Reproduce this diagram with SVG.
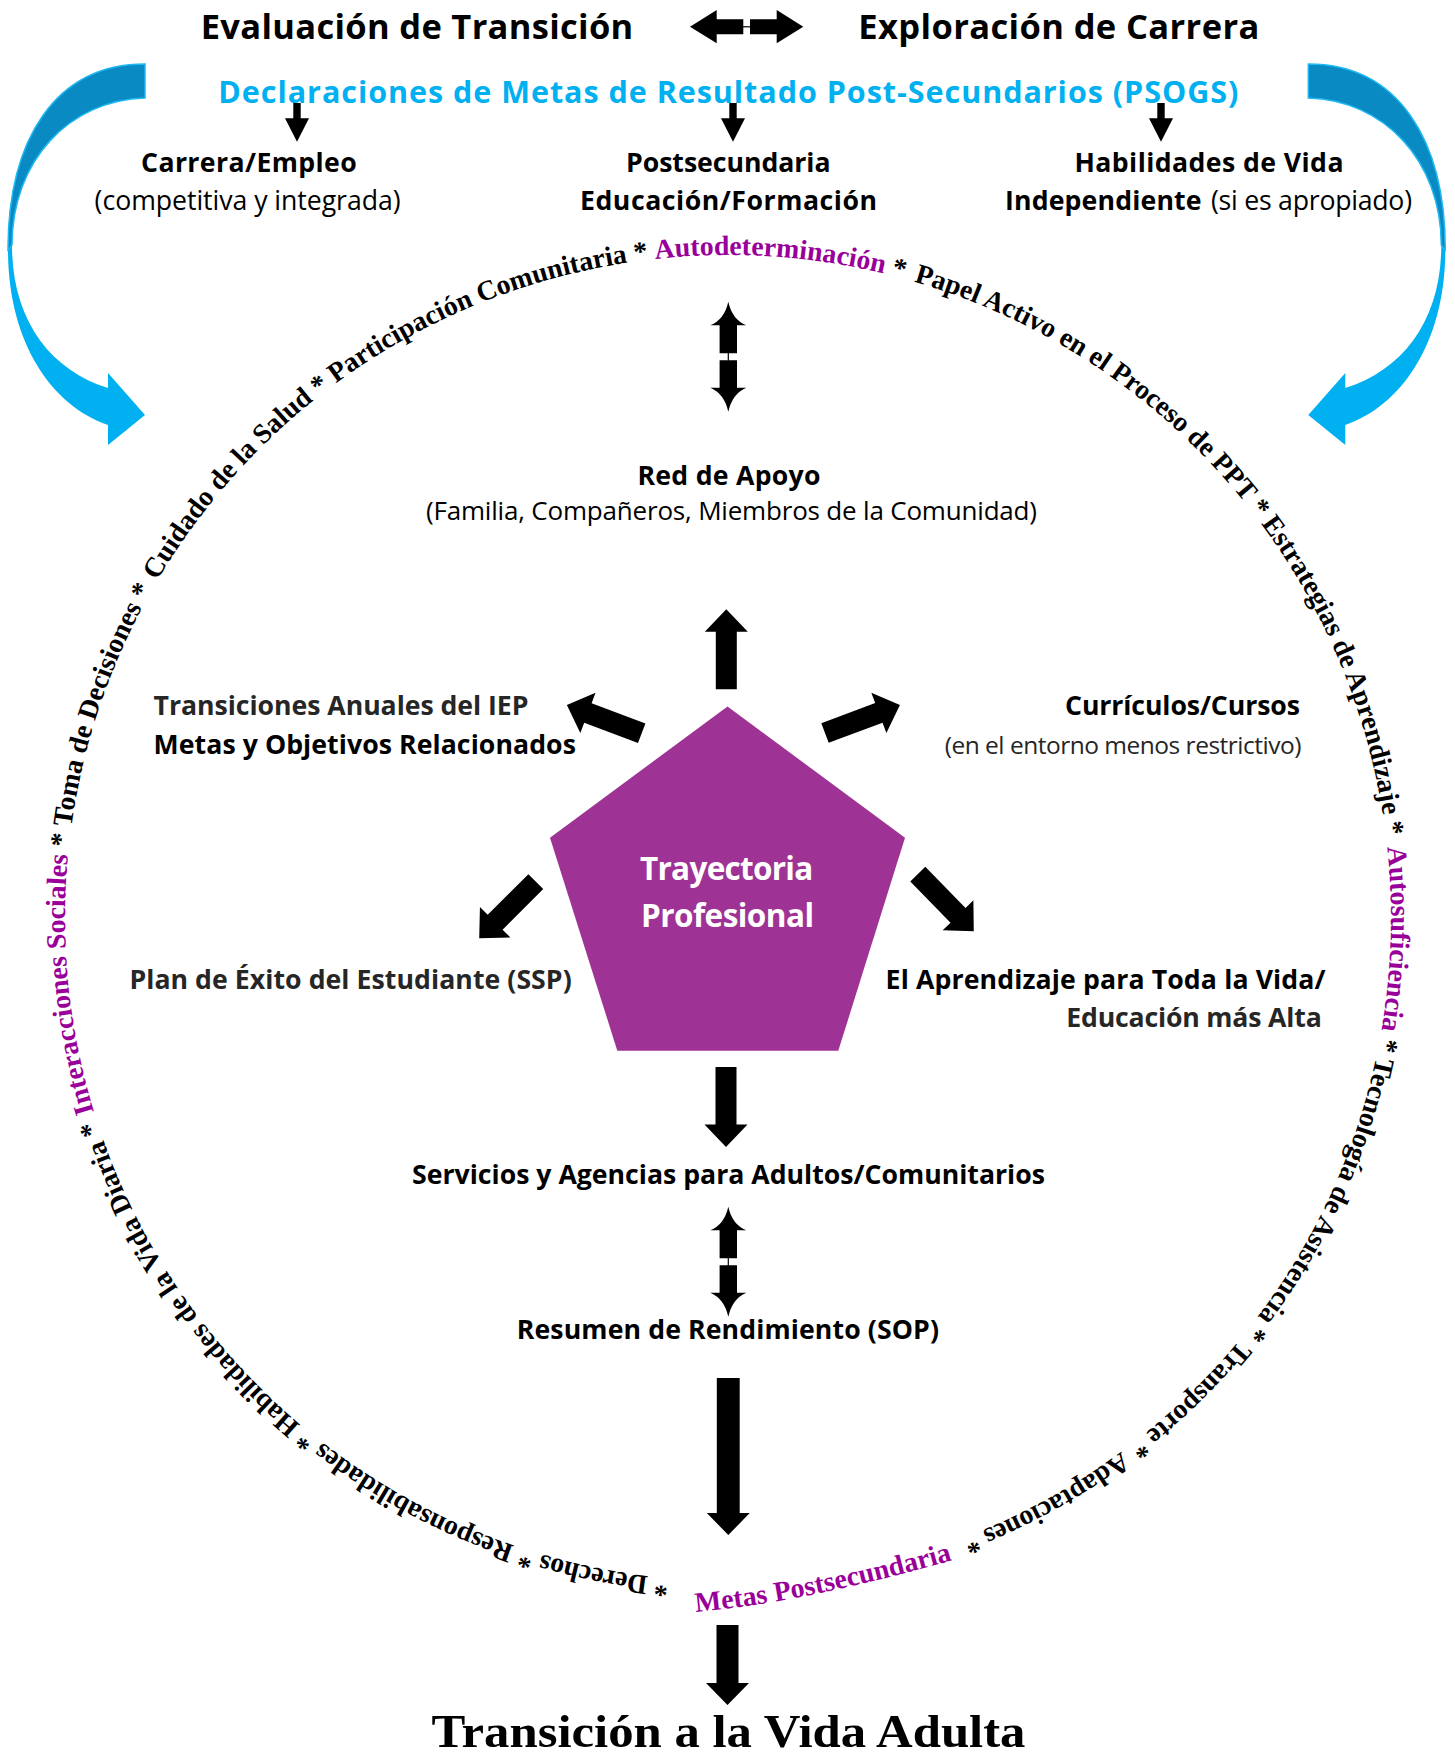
<svg xmlns="http://www.w3.org/2000/svg" width="1455" height="1752" viewBox="0 0 1455 1752">
<style>
.lb{font-family:'Open Sans','Noto Sans','Liberation Sans',sans-serif;font-weight:700;font-size:26.67px;fill:#000}
.lr{font-family:'Open Sans','Noto Sans','Liberation Sans',sans-serif;font-weight:400;font-size:26.67px;fill:#000}
.gr{fill:#262626}
.ring{font-family:'Liberation Serif','Times New Roman',serif;font-weight:700;font-size:27.8px;fill:#000}
.pu{fill:#990099}
.ba{fill:#00B0F0}
.bad{fill:#0A8AC2;stroke:#1FB8F2;stroke-width:1.5}
.blk{fill:#000}
</style>
<defs>
<path id="arr" d="M0,-10.5 H57.5 V-21.5 L80,0 L57.5,21.5 V10.5 H0 Z"/>
<path id="ringPath" d="M728,1581 A663,663 0 1 1 728,255 A663,663 0 1 1 728,1581"/>
<path id="metasPath" d="M696,1612 Q805,1602.5 960,1558"/>
<g id="curvedArrow">
<path class="ba" d="M145,64 C55,64 8,140 8,250 C8,340 50,405 108,425 L108,445 L145,415 L108,373 L108,388 C50,370 12,320 12,245 C12,160 70,100 145,98 Z"/>
<path class="bad" d="M145,64 C55,64 8,140 8,250 C10,248 11,247 12,245 C12,160 70,100 145,98 Z"/>
</g>
<g id="dblV">
<path d="M0,0 Q-4,18 -18,23.5 L-8.7,23.5 L-8.7,51.5 L8.7,51.5 L8.7,23.5 L18,23.5 Q4,18 0,0 Z"/>
<path d="M0,51 V59" stroke="#000" stroke-width="1.2"/>
<path d="M-8.7,58.5 L8.7,58.5 L8.7,86 L18,86 Q4,92 0,110 Q-4,92 -18,86 L-8.7,86 Z"/>
</g>
</defs>
<rect width="1455" height="1752" fill="#fff"/>

<g id="blue-arrows">
<use href="#curvedArrow"/>
<use href="#curvedArrow" transform="translate(1453.3,0) scale(-1,1)"/>
</g>

<g id="node-evaluacion"><text class="lb" x="200.7" y="39.3" style="font-size:34.5px" textLength="432.6">Evaluación de Transición</text></g>
<g id="node-exploracion"><text class="lb" x="858.3" y="39.3" style="font-size:34.5px" textLength="401">Exploración de Carrera</text></g>
<g id="node-psogs"><text class="lb" x="218.3" y="102.7" style="font-size:30.5px;fill:#00B0F0" textLength="1020">Declaraciones de Metas de Resultado Post-Secundarios (PSOGS)</text></g>

<g id="node-carrera">
<text class="lb" x="141" y="171.5" textLength="215.7">Carrera/Empleo</text>
<text class="lr" x="94.6" y="210" textLength="306">(competitiva y integrada)</text>
</g>
<g id="node-postsecundaria">
<text class="lb" x="626" y="171.5" textLength="204.5">Postsecundaria</text>
<text class="lb" x="580" y="210" textLength="297">Educación/Formación</text>
</g>
<g id="node-habilidades">
<text class="lb" x="1074.5" y="171.5" textLength="269">Habilidades de Vida</text>
<text class="lb" x="1005" y="210" textLength="196.6">Independiente</text>
<text class="lr" x="1211" y="210" textLength="201">(si es apropiado)</text>
</g>

<g id="ring-text">
<text class="ring"><textPath href="#ringPath" startOffset="59">* Derechos *</textPath></text>
<text class="ring"><textPath href="#ringPath" startOffset="217.3">Responsabilidades *</textPath></text>
<text class="ring"><textPath href="#ringPath" startOffset="464.4">Habilidades de la Vida Diaria *</textPath></text>
<text class="ring"><textPath href="#ringPath" startOffset="844.4"><tspan class="pu">Interacciones Sociales</tspan> *</textPath></text>
<text class="ring"><textPath href="#ringPath" startOffset="1132.4">Toma de Decisiones *</textPath></text>
<text class="ring"><textPath href="#ringPath" startOffset="1395">Cuidado de la Salud *</textPath></text>
<text class="ring"><textPath href="#ringPath" startOffset="1663">Participación Comunitaria *</textPath></text>
<text class="ring"><textPath href="#ringPath" startOffset="2009.8"><tspan class="pu">Autodeterminación</tspan> *</textPath></text>
<text class="ring"><textPath href="#ringPath" startOffset="2271">Papel Activo en el Proceso de PPT *</textPath></text>
<text class="ring"><textPath href="#ringPath" startOffset="2701.6">Estrategias de Aprendizaje *</textPath></text>
<text class="ring"><textPath href="#ringPath" startOffset="3053">
<tspan class="pu">Autosuficiencia</tspan> *</textPath></text>
<text class="ring"><textPath href="#ringPath" startOffset="3264">Tecnología de Asistencia *</textPath></text>
<text class="ring"><textPath href="#ringPath" startOffset="3581.9">Transporte *</textPath></text>
<text class="ring"><textPath href="#ringPath" startOffset="3744">Adaptaciones *</textPath></text>
</g>
<g id="node-metas-post"><text class="ring pu" style="font-size:28px"><textPath href="#metasPath">Metas Postsecundaria</textPath></text></g>

<g id="node-red">
<text class="lb" x="637.5" y="485" textLength="183">Red de Apoyo</text>
<text class="lr" x="426" y="520" style="font-size:26px" textLength="611">(Familia, Compañeros, Miembros de la Comunidad)</text>
</g>
<g id="node-iep">
<text class="lb gr" x="153.6" y="715" textLength="374.8">Transiciones Anuales del IEP</text>
<text class="lb" x="153.6" y="753.6" textLength="422.3">Metas y Objetivos Relacionados</text>
</g>
<g id="node-curriculos">
<text class="lb" x="1065" y="715" textLength="235">Currículos/Cursos</text>
<text class="lr gr" x="944.7" y="753.6" style="font-size:24.5px" textLength="356.7">(en el entorno menos restrictivo)</text>
</g>
<g id="node-trayectoria">
<polygon points="727.5,706.5 905,837.7 838.3,1050.7 617.3,1050.7 550,837.7" fill="#9F3395"/>
<text class="lb" x="640" y="880" style="font-size:31.5px;fill:#fff" textLength="173.3">Trayectoria</text>
<text class="lb" x="641" y="926.7" style="font-size:31.5px;fill:#fff" textLength="173">Profesional</text>
</g>
<g id="node-ssp"><text class="lb gr" x="129.4" y="989" textLength="442.3">Plan de Éxito del Estudiante (SSP)</text></g>
<g id="node-aprendizaje">
<text class="lb" x="885.6" y="989" textLength="440">El Aprendizaje para Toda la Vida/</text>
<text class="lb gr" x="1066.2" y="1027" textLength="255.6">Educación más Alta</text>
</g>
<g id="node-servicios"><text class="lb" x="412" y="1184" textLength="633">Servicios y Agencias para Adultos/Comunitarios</text></g>
<g id="node-sop"><text class="lb" x="516.8" y="1339" textLength="422.2">Resumen de Rendimiento (SOP)</text></g>
<g id="node-transicion"><text x="431.5" y="1747" font-family="'Liberation Serif','Times New Roman',serif" font-weight="700" font-size="46" textLength="594" lengthAdjust="spacingAndGlyphs">Transición a la Vida Adulta</text></g>

<g id="connectors" class="blk">
<path d="M690,26.7 L716.7,10 L716.7,19.3 L743.3,19.3 L743.3,34.3 L716.7,34.3 L716.7,43.3 Z"/>
<path d="M743,26.8 H750.3" stroke="#000" stroke-width="1.2"/>
<path d="M803.3,26.7 L776.7,10 L776.7,19.3 L750,19.3 L750,34.3 L776.7,34.3 L776.7,43.3 Z"/>
<path d="M293.3,103 V118.3 H285 L297,141.7 L309,118.3 H300.7 V103 Z"/>
<path d="M729.3,103 V118.3 H721 L733,141.7 L745,118.3 H736.7 V103 Z"/>
<path d="M1157.3,103 V118.3 H1149 L1161,141.7 L1173,118.3 H1164.7 V103 Z"/>
<use href="#dblV" transform="translate(728.3,301.7)"/>
<use href="#arr" transform="translate(726.3,689.3) rotate(-90)"/>
<use href="#arr" transform="translate(641.7,733.3) rotate(200.7)"/>
<use href="#arr" transform="translate(825,733) rotate(-20.5)"/>
<use href="#arr" transform="translate(535.8,881.6) rotate(135)"/>
<use href="#arr" transform="translate(917.8,874.2) rotate(45.6)"/>
<use href="#arr" transform="translate(726,1067) rotate(90)"/>
<use href="#dblV" transform="translate(728.3,1206.7)"/>
<path d="M716.8,1378 H739.7 V1513 H749.8 L728.3,1535 L706.8,1513 H716.8 Z"/>
<path d="M716.5,1625 H738.5 V1683 H749 L727.5,1705 L706,1683 H716.5 Z"/>
</g>
</svg>
